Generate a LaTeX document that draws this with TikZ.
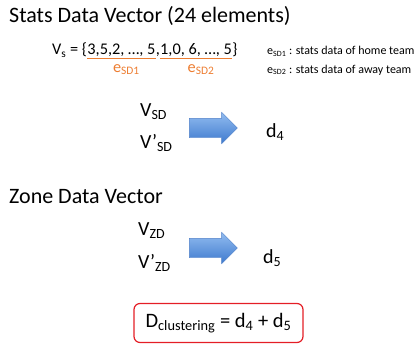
\documentclass[tikz,border=0pt]{standalone}
\usepackage{fontspec}
\setmainfont{Carlito}
\usetikzlibrary{shapes.arrows}

\definecolor{officeorange}{RGB}{237,125,49}
\definecolor{arrowtop}{RGB}{146,188,240}
\definecolor{arrowbot}{RGB}{62,122,206}
\definecolor{arrowline}{RGB}{80,128,200}
\definecolor{boxred}{RGB}{228,30,38}

\newcommand{\lo}[1]{\textsubscript{#1}}

\begin{document}
\begin{tikzpicture}[x=1pt, y=-1pt,
  txt/.style={inner sep=0pt, anchor=base west},
  head/.style={txt, font=\fontsize{22}{26}\selectfont},
  vec/.style={txt, font=\fontsize{20}{24}\selectfont},
  small/.style={txt, font=\fontsize{12}{14}\selectfont},
  part/.style={inner sep=0pt, anchor=base west, font=\fontsize{16.3}{19}\selectfont},
  blockarrow/.style={single arrow, draw=arrowline, top color=arrowtop, bottom color=arrowbot,
    minimum height=48pt, inner xsep=0pt, inner ysep=9.5pt, single arrow head extend=6pt,
    single arrow head indent=0pt, line width=0.4pt}]
  \useasboundingbox (0,0) rectangle (417,345);

  % stats data vector
  \node[head] (stitle) at (9,23) {Stats Data Vector (24 elements)};

  \node[part] (vs) at (52,55) {V\lo{s} = \{};
  \node[part] (home) at (vs.base east) {3,5,2, …, 5};
  \node[part] (comma) at (home.base east) {,};
  \node[part] (away) at (comma.base east) {1,0, 6, …, 5};
  \node[part] (close) at (away.base east) {\}};

  \draw[officeorange, line width=1pt] ([yshift=-3.5pt]home.base west) -- ([yshift=-3.5pt]home.base east);
  \draw[officeorange, line width=1pt] ([yshift=-3.5pt]away.base west) -- ([yshift=-3.5pt]away.base east);
  \node[part, anchor=base, text=officeorange] (esd1) at ([xshift=5pt, yshift=-17pt]home.base) {e\lo{SD1}};
  \node[part, anchor=base, text=officeorange] (esd2) at ([xshift=5pt, yshift=-17pt]away.base) {e\lo{SD2}};

  \node[small] (note1) at (267,55) {e\lo{SD1} : stats data of home team};
  \node[small] (note2) at (267,73) {e\lo{SD2} : stats data of away team};

  \node[vec] (vsd) at (140,116) {V\lo{SD}};
  \node[vec] (vsdp) at (140,148) {V’\lo{SD}};
  \node[blockarrow] (arr1) at (208.5,128) {};
  \node[vec] (d4) at (266,137) {d\lo{4}};

  % zone data vector
  \node[head] (ztitle) at (9,203) {Zone Data Vector};

  \node[vec] (vzd) at (138,235) {V\lo{ZD}};
  \node[vec] (vzdp) at (138,268) {V’\lo{ZD}};
  \node[blockarrow] (arr2) at (208.5,248) {};
  \node[vec] (d5) at (263,263) {d\lo{5}};

  % total distance
  \node[draw=boxred, line width=1.2pt, rounded corners=6pt, minimum width=169pt, minimum height=39pt,
    font=\fontsize{20.5}{24}\selectfont] (dbox) at (218.5,323) {D\lo{clustering} = d\lo{4} + d\lo{5}};
\end{tikzpicture}
\end{document}
